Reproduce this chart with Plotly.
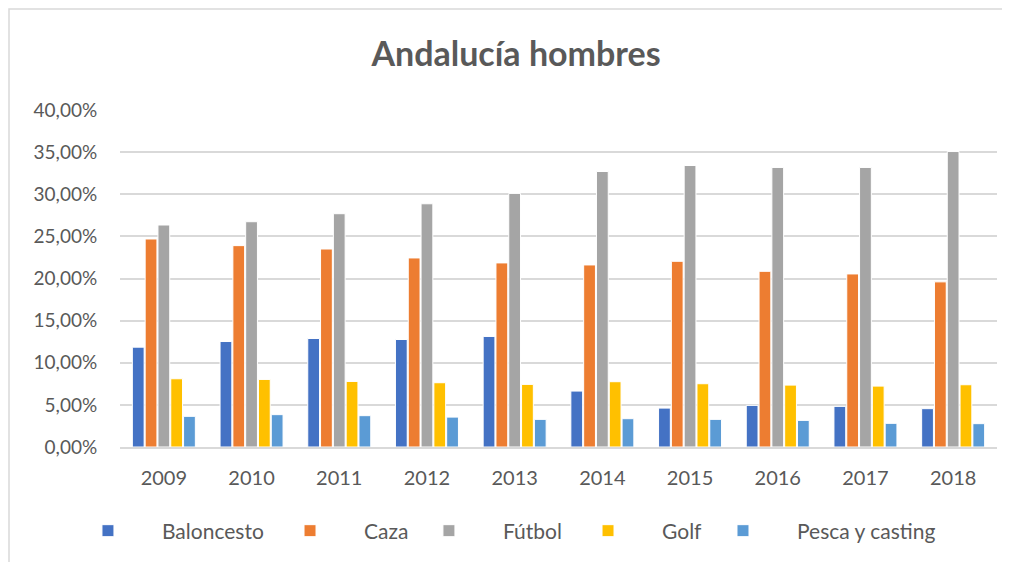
import plotly.graph_objects as go

years = ["2009", "2010", "2011", "2012", "2013", "2014", "2015", "2016", "2017", "2018"]
baloncesto = [0.1185, 0.1252, 0.1288, 0.1276, 0.1312, 0.0664, 0.0462, 0.0494, 0.0482, 0.0455]
caza = [0.2469, 0.2390, 0.2350, 0.2244, 0.2185, 0.2161, 0.2204, 0.2085, 0.2054, 0.1960]
futbol = [0.2635, 0.2674, 0.2769, 0.2887, 0.3010, 0.3270, 0.3341, 0.3318, 0.3318, 0.3507]
golf = [0.0810, 0.0802, 0.0778, 0.0763, 0.0743, 0.0775, 0.0751, 0.0735, 0.0723, 0.0739]
pesca = [0.0364, 0.0384, 0.0372, 0.0355, 0.0328, 0.0336, 0.0328, 0.0316, 0.0281, 0.0277]

series_names = ["Baloncesto", "Caza", "Fútbol", "Golf", "Pesca y casting"]
series_values = [baloncesto, caza, futbol, golf, pesca]
series_colors = ["#4472C4", "#ED7D31", "#A5A5A5", "#FFC000", "#5B9BD5"]

# horizontal position (paper coords) of each legend entry
legend_x = [-0.0753, 0.1551, 0.3135, 0.4949, 0.6488]

font_family = "Lato, 'Open Sans', sans-serif"
text_color = "#595959"

fig = go.Figure()
legend_layout = {}
for i, (name, vals, color) in enumerate(zip(series_names, series_values, series_colors)):
    key = "legend" if i == 0 else f"legend{i + 1}"
    fig.add_trace(go.Bar(
        x=years, y=vals, name=name, legend=key,
        marker=dict(color=color, line=dict(color="white", width=1)),
    ))
    legend_layout[key] = dict(
        orientation="h", x=legend_x[i], xanchor="left", y=-0.2493, yanchor="middle",
        font=dict(size=21, color=text_color, family=font_family), itemwidth=98,
        bgcolor="rgba(0,0,0,0)",
    )

fig.update_layout(
    width=1010, height=562,
    margin=dict(l=112, r=21, t=102, b=123),
    paper_bgcolor="white", plot_bgcolor="white",
    separators=",.",
    barmode="group", bargap=0.27, bargroupgap=0.08,
    font=dict(family=font_family, color=text_color, size=19),
    title=dict(text="<b>Andalucía hombres</b>", x=0.503, xanchor="center",
               y=0.918, yanchor="middle",
               font=dict(family=font_family, size=34, color=text_color)),
    showlegend=True,
    **legend_layout,
)
fig.update_yaxes(range=[0, 0.40], dtick=0.05, tickformat=".2%",
                 showgrid=True, gridcolor="#D9D9D9", gridwidth=1.5,
                 zeroline=False, showline=False,
                 tickfont=dict(size=19),
                 ticks="outside", ticklen=18, tickcolor="rgba(0,0,0,0)")
fig.update_xaxes(showgrid=False, showline=True, linecolor="#D9D9D9", linewidth=1.5,
                 tickfont=dict(size=20),
                 ticks="outside", ticklen=12, tickcolor="rgba(0,0,0,0)")

# chart border (only left and top edges fall inside the view)
fig.add_shape(type="rect", xref="paper", yref="paper",
              x0=-111 / 877, x1=1.3, y0=-0.7, y1=1 + 101 / 337,
              line=dict(color="#D9D9D9", width=1.5), fillcolor="rgba(0,0,0,0)", layer="below")

fig.write_html("out.html")
